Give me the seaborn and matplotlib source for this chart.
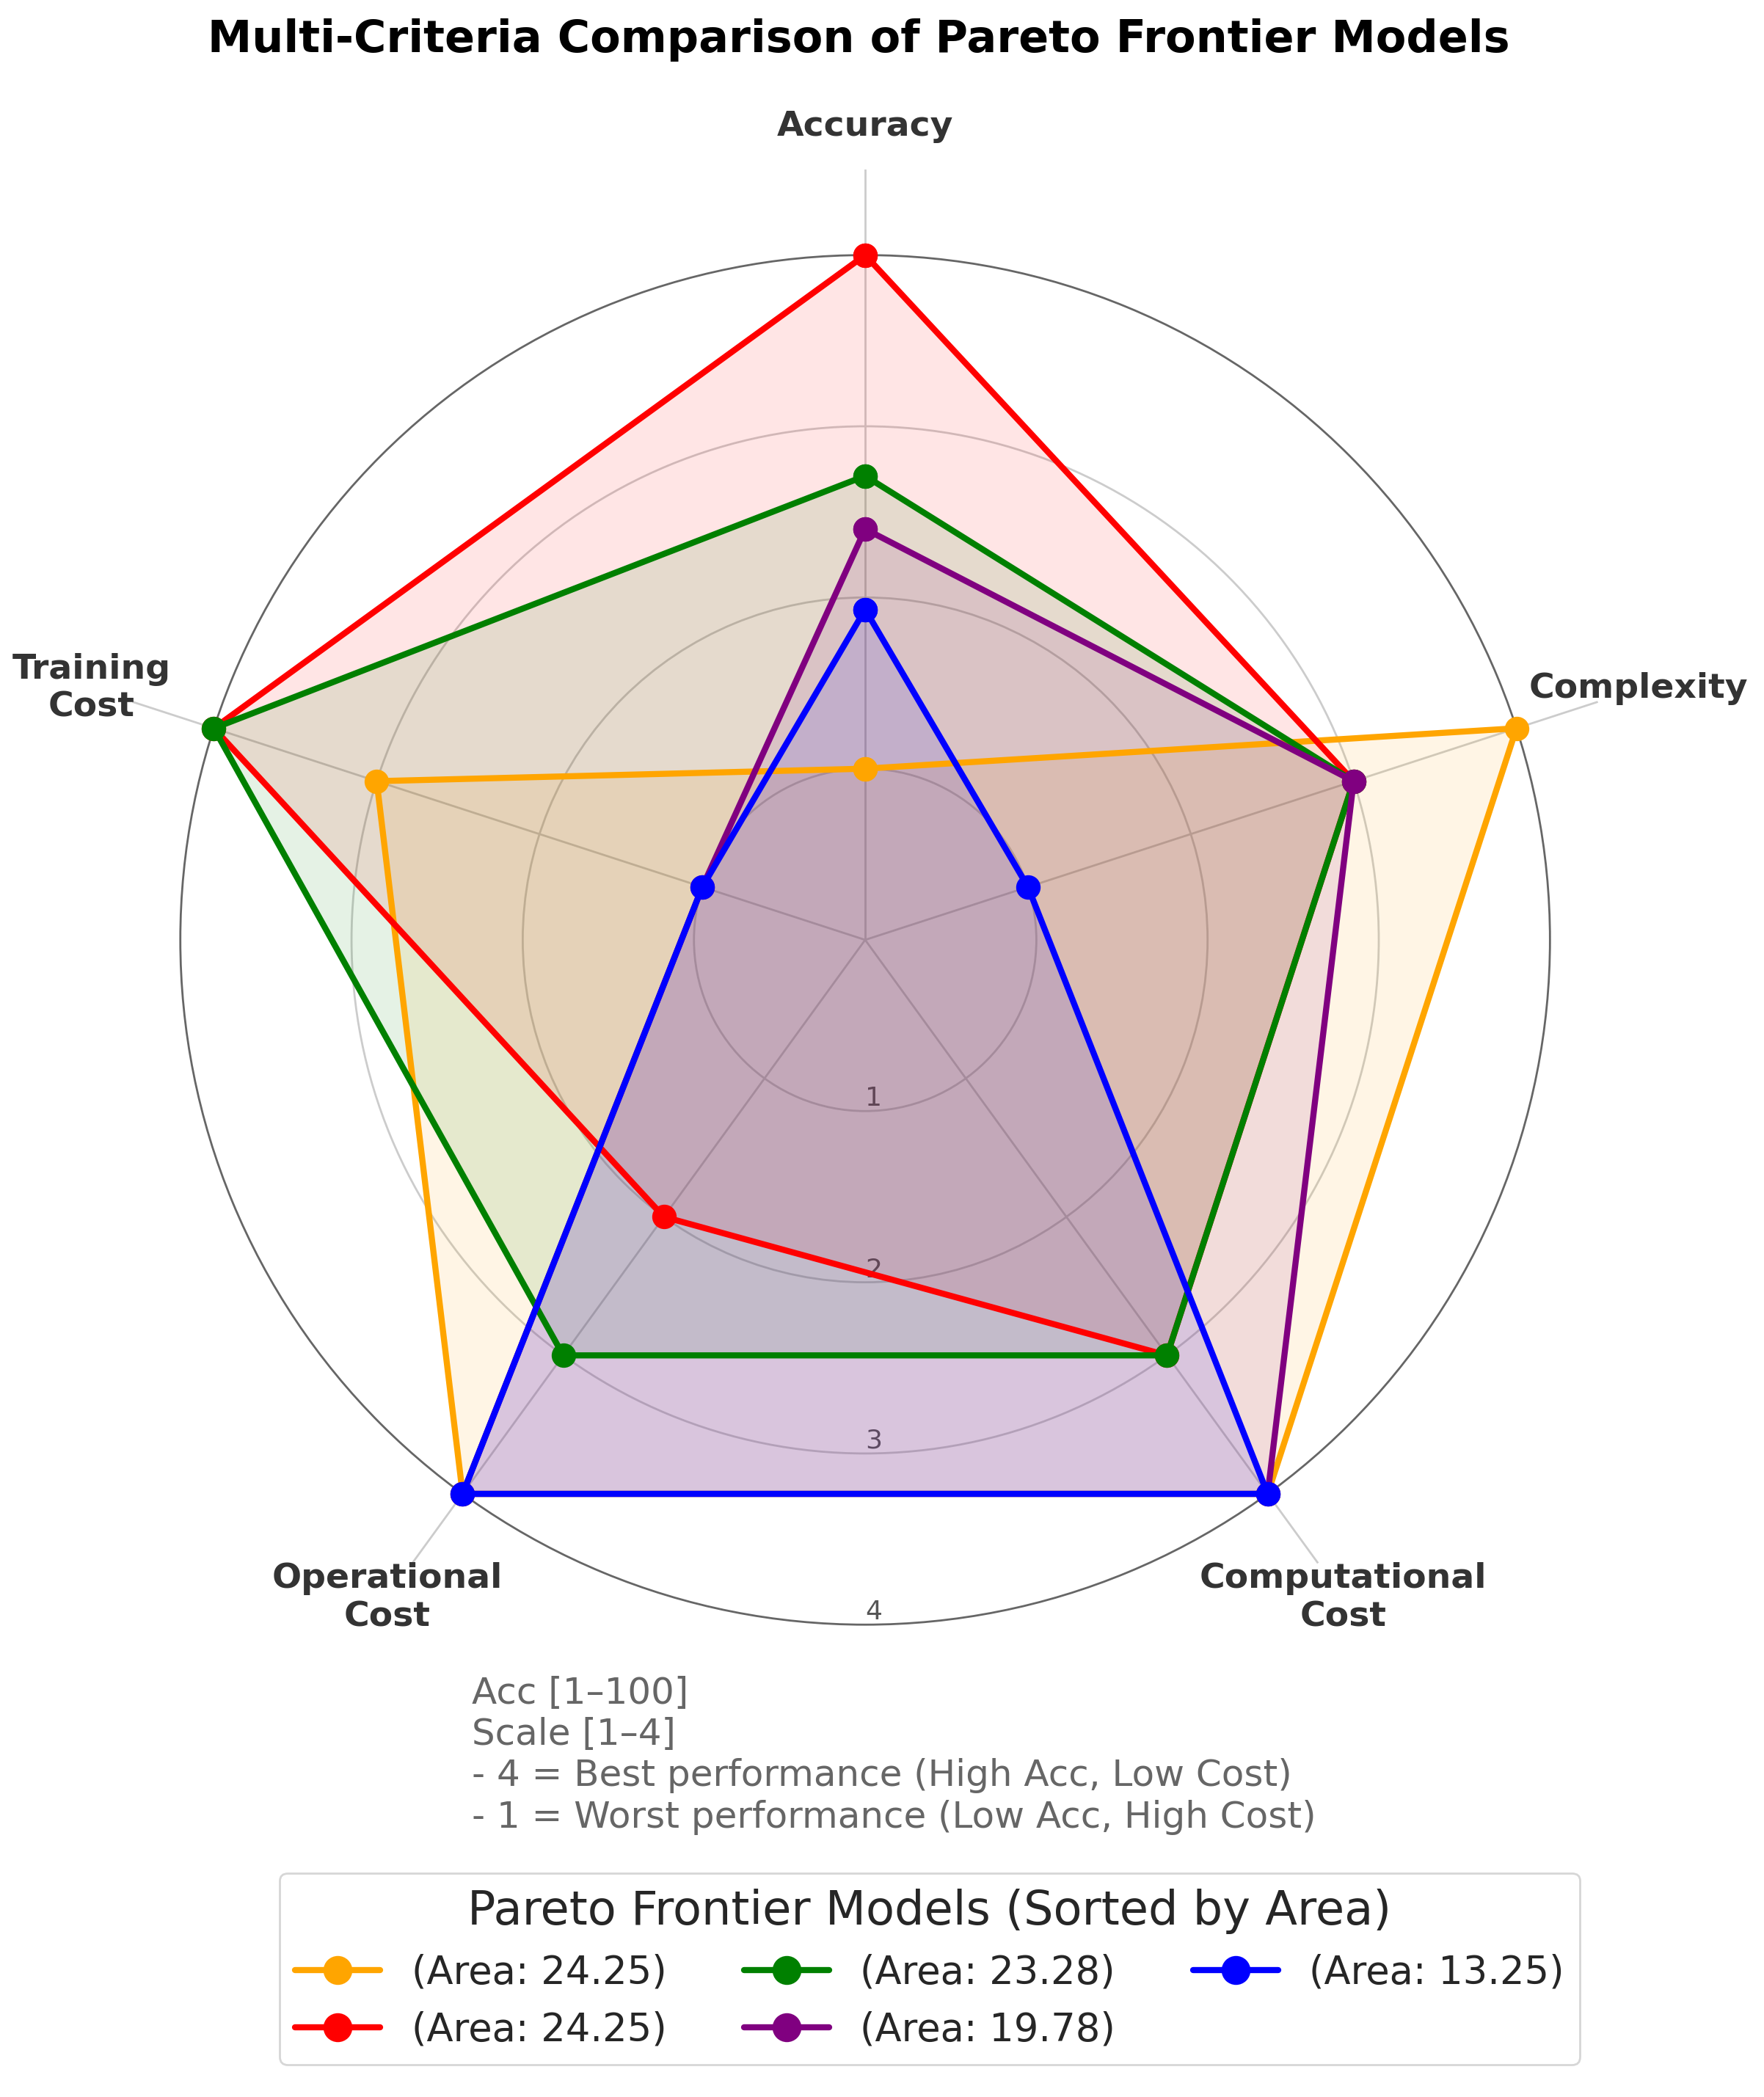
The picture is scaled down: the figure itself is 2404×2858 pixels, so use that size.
import numpy as np
import pandas as pd
import seaborn as sns
import matplotlib.pyplot as plt

# criteria, clockwise from the top
criteria = ["Accuracy", "Complexity", "Computational\nCost", "Operational\nCost", "Training\nCost"]

# one entry per model, already sorted by area
areas = [24.25, 24.25, 23.28, 19.78, 13.25]
colors = ["orange", "red", "green", "purple", "blue"]

accuracy = [1.0, 4.0, 2.71, 2.4, 1.93]
complexity = [4, 3, 3, 3, 1]
computational = [4, 3, 3, 4, 4]
operational = [4, 2, 3, 4, 4]
training = [3, 4, 4, 1, 1]

rticks = [1, 2, 3, 4]

note = ("Acc [1\u2013100]\nScale [1\u20134]\n"
        "- 4 = Best performance (High Acc, Low Cost)\n"
        "- 1 = Worst performance (Low Acc, High Cost)")


def buildFrame(i, angles):
    vals = [accuracy[i], complexity[i], computational[i], operational[i], training[i]]
    # close the polygon
    return pd.DataFrame({"theta": list(angles) + [angles[0]], "value": vals + [vals[0]]})


sns.set_theme(style="whitegrid")
plt.rcParams['font.family'] = ['DejaVu Sans']

fig = plt.figure(figsize=(12.02, 14.29), dpi=200)
ax = fig.add_axes([0.0537, 0.1844, 0.8735, 0.7348], projection="polar")
ax.set_theta_offset(np.pi / 2)
ax.set_theta_direction(-1)

angles = np.linspace(0, 2 * np.pi, len(criteria), endpoint=False)

for i in range(len(areas)):
    df = buildFrame(i, angles)
    sns.lineplot(data=df, x="theta", y="value", sort=False, estimator=None, ax=ax,
                 color=colors[i], linewidth=3, marker="o", markersize=11,
                 markeredgecolor=colors[i], markeredgewidth=1,
                 label="(Area: %.2f)" % areas[i])
    ax.fill(df["theta"], df["value"], color=colors[i], alpha=0.1)

ax.set_ylim(0, 4.5)
ax.set_xticks(angles)
ax.set_xticklabels(criteria, fontsize=17, fontweight="bold", color="#333333")
ax.tick_params(axis="x", pad=8)
ax.set_rgrids(rticks, labels=[str(t) for t in rticks], angle=180, color="#555555", fontsize=13)
ax.set_xlabel("")
ax.set_ylabel("")
ax.spines["polar"].set_visible(False)
ax.grid(color=".8", linewidth=1)
ax.yaxis.get_gridlines()[-1].set_color("#666666")

handles, labels = ax.get_legend_handles_labels()
if ax.get_legend() is not None:
    ax.get_legend().remove()

fig.text(0.487, 0.981, "Multi-Criteria Comparison of Pareto Frontier Models",
         ha="center", va="center", fontsize=21.8, fontweight="bold", color="black")

fig.text(0.2676, 0.201, note, ha="left", va="top", fontsize=18, color="#666666", linespacing=1.22)

fig.legend(handles, labels, title="Pareto Frontier Models (Sorted by Area)",
           loc="upper center", bbox_to_anchor=(0.527, 0.116), ncol=3,
           fontsize=19, title_fontsize=23, handlelength=2.2, columnspacing=2.0,
           markerscale=1.2, frameon=True, edgecolor="0.8")

plt.savefig("out.png", dpi=200)
